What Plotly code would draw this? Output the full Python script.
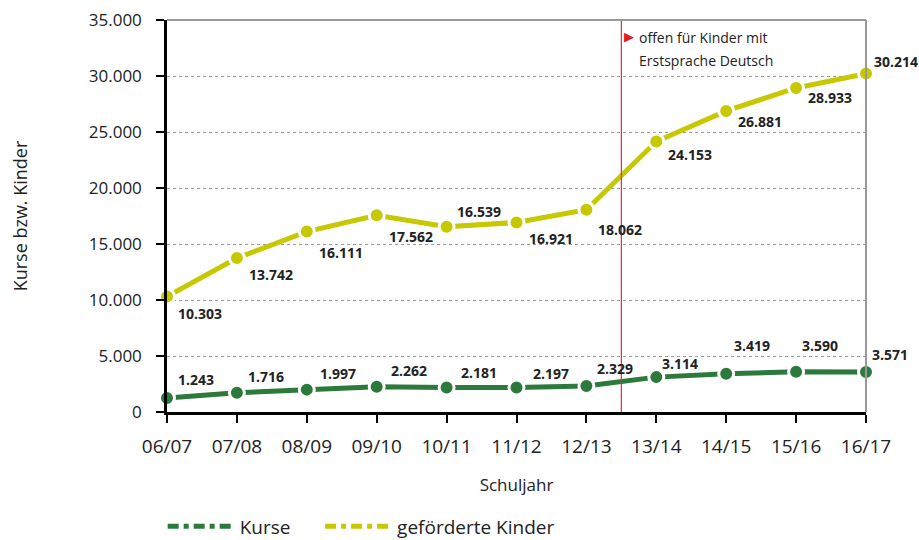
import plotly.graph_objects as go

schuljahre = ["06/07", "07/08", "08/09", "09/10", "10/11", "11/12", "12/13", "13/14", "14/15", "15/16", "16/17"]
kurse = [1243, 1716, 1997, 2262, 2181, 2197, 2329, 3114, 3419, 3590, 3571]
kinder = [10303, 13742, 16111, 17562, 16539, 16921, 18062, 24153, 26881, 28933, 30214]
y_ticks = [0, 5000, 10000, 15000, 20000, 25000, 30000, 35000]

GREEN = "#2b7a3b"
YELLOW = "#c6c800"
FONT = "Open Sans"

x = list(range(len(schuljahre)))

def fmt(v):
    return f"{v:,}".replace(",", ".")

fig = go.Figure()
for name, vals, col in [("Kurse", kurse, GREEN), ("geförderte Kinder", kinder, YELLOW)]:
    fig.add_trace(go.Scatter(x=x, y=vals, name=name, mode="lines+markers", showlegend=False,
                             line=dict(color=col, width=5),
                             marker=dict(size=15, color=col, line=dict(color="white", width=3)),
                             cliponaxis=False))
# legend entries (dash-dot symbol as in the reference)
for name, col in [("Kurse" + "&nbsp;" * 5, GREEN), ("geförderte Kinder", YELLOW)]:
    fig.add_trace(go.Scatter(x=[None], y=[None], name=name, mode="lines",
                             line=dict(color=col, width=5, dash="11px,5px,5px,5px")))

# label offsets (pixels)
kinder_off = [(33, -17), (34, -16), (34, -21), (34, -21), (32, 15), (34, -16), (34, -20), (34, -13), (34, -11), (34, -10), (30, 12)]
kurse_off = [(29, 19), (29, 16), (31, 16), (32, 16), (32, 15), (34, 14), (29, 17), (24, 14), (26, 28), (24, 26), (24, 18)]

for i in x:
    fig.add_annotation(x=i, y=kinder[i], text=f"<b>{fmt(kinder[i])}</b>", showarrow=False,
                       xshift=kinder_off[i][0], yshift=kinder_off[i][1],
                       font=dict(family=FONT, size=14, color="#222"))
    fig.add_annotation(x=i, y=kurse[i], text=f"<b>{fmt(kurse[i])}</b>", showarrow=False,
                       xshift=kurse_off[i][0], yshift=kurse_off[i][1],
                       font=dict(family=FONT, size=14, color="#222"))

# red vertical line between 12/13 and 13/14
fig.add_shape(type="line", x0=6.5, x1=6.5, y0=0, y1=35000, xref="x", yref="y",
              line=dict(color="#e03030", width=1.2))
fig.add_annotation(x=6.5, y=35000, xref="x", yref="y", xanchor="left", yanchor="middle",
                   text="▶", showarrow=False, xshift=1, yshift=-16,
                   font=dict(family=FONT, size=13, color="#e02020"))
fig.add_annotation(x=6.5, y=35000, xref="x", yref="y", xanchor="left", yanchor="middle",
                   text="offen für Kinder mit", showarrow=False, xshift=16, yshift=-17,
                   font=dict(family=FONT, size=14, color="#222"))
fig.add_annotation(x=6.5, y=35000, xref="x", yref="y", xanchor="left", yanchor="middle",
                   text="Erstsprache Deutsch", showarrow=False, xshift=16, yshift=-40,
                   font=dict(family=FONT, size=14, color="#222"))

# gray frame top and right
fig.add_shape(type="line", xref="paper", yref="paper", x0=0, x1=1, y0=1, y1=1,
              line=dict(color="#999", width=2))
fig.add_shape(type="line", xref="paper", yref="paper", x0=1, x1=1, y0=0, y1=1,
              line=dict(color="#999", width=2))

fig.update_layout(
    width=919, height=540,
    margin=dict(l=167, r=53, t=20, b=128, autoexpand=False),
    plot_bgcolor="white", paper_bgcolor="white",
    separators=",.",
    font=dict(family=FONT, size=16, color="#222"),
    showlegend=True,
    legend=dict(orientation="h", xref="container", yref="container", x=0.177, y=0.025,
                xanchor="left", yanchor="middle",
                font=dict(family=FONT, size=19), itemwidth=67),
    xaxis=dict(range=[0, 10], tickvals=x, ticktext=schuljahre, showgrid=False,
               showline=True, linecolor="black", linewidth=2.5, ticks="outside",
               ticklen=8, tickwidth=2, tickcolor="black", zeroline=False,
               tickfont=dict(size=19), ticklabelstandoff=7, ticklabeloverflow="allow",
               title=dict(text="Schuljahr", font=dict(size=17), standoff=22)),
    yaxis=dict(range=[0, 35000], tickvals=y_ticks, tickformat=",d", showgrid=True,
               gridcolor="#999", griddash="dot", gridwidth=1,
               showline=True, linecolor="black", linewidth=2.5, ticks="outside",
               ticklen=8, tickwidth=2, tickcolor="black", zeroline=False,
               tickfont=dict(size=17), ticklabelstandoff=11, ticklabeloverflow="allow",
               title=dict(text="Kurse bzw. Kinder", font=dict(size=18), standoff=57)),
)

fig.write_html("out.html", config={"displayModeBar": False},
               post_script="document.body.style.margin='0';")
